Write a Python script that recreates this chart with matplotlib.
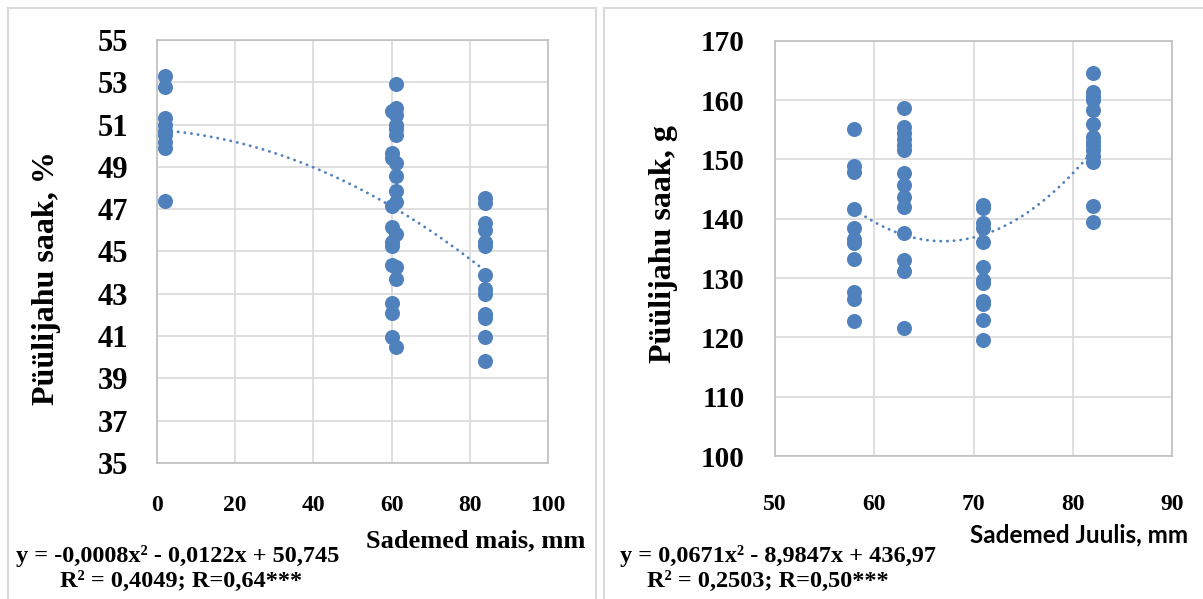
import numpy as np
import matplotlib.pyplot as plt
from matplotlib.patches import Rectangle

# Precipitation in May (mm) vs flour yield (%)
mai_x = [2, 2, 2, 2, 2, 2, 2, 2, 2,
         61, 61, 60, 61, 61, 61, 61, 60, 60, 61, 61, 61, 61, 60, 60, 61,
         60, 60, 60, 61, 61, 60, 60, 60, 61,
         84, 84, 84, 84, 84, 84, 84, 84, 84, 84, 84, 84, 84]
mai_y = [53.3, 52.8, 51.3, 51.0, 50.7, 50.5, 50.2, 49.9, 47.4,
         52.9, 51.8, 51.65, 51.45, 51.0, 50.8, 50.5, 49.65, 49.4, 49.2, 48.55, 47.85, 47.35, 47.15, 46.15, 45.85,
         45.45, 45.25, 44.35, 44.25, 43.7, 42.55, 42.1, 40.95, 40.5,
         47.55, 47.3, 46.35, 46.0, 45.45, 45.25, 43.9, 43.25, 43.0, 42.05, 41.85, 40.95, 39.8]

# Precipitation in July (mm) vs flour yield (g)
juuli_x = [58] * 11 + [63] * 14 + [71] * 12 + [82] * 14
juuli_y = [155.1, 148.9, 147.8, 141.6, 138.5, 136.6, 135.9, 133.2, 127.7, 126.4, 122.8,
           158.6, 155.4, 154.5, 153.5, 152.4, 151.6, 147.7, 145.7, 143.6, 141.9, 137.6, 133.0, 131.2, 121.6,
           142.3, 141.8, 139.3, 138.4, 136.1, 131.8, 129.7, 129.1, 126.1, 125.6, 123.0, 119.6,
           164.5, 161.3, 160.7, 160.0, 158.3, 156.0, 153.7, 153.0, 152.4, 151.5, 150.6, 149.6, 142.1, 139.4]

# polynomial trendline coefficients (a, b, c) for y = a*x^2 + b*x + c
mai_coef = (-0.0008, -0.0122, 50.745)
juuli_coef = (0.0671, -8.9847, 436.97)

mai_yticks = list(range(35, 56, 2))
mai_xticks = list(range(0, 101, 20))
juuli_yticks = list(range(100, 171, 10))
juuli_xticks = list(range(50, 91, 10))

W, H = 1203, 599
BLUE = '#4f81bd'
SERIF = 'Liberation Serif'


def fx(px):
    return px / W


def fy(py):
    return 1 - py / H


def trend(ax, coef, x0, x1):
    a, b, c = coef
    xs = np.linspace(x0, x1, 200)
    ax.plot(xs, a * xs**2 + b * xs + c, color=BLUE, lw=2.0,
            linestyle=(0, (0.1, 2.3)), dash_capstyle='round', zorder=2)


def style(ax, xticks, yticks, xpad, ypad, yfs, xfs):
    ax.set_xticks(xticks)
    ax.set_yticks(yticks)
    ax.set_xlim(xticks[0], xticks[-1])
    ax.set_ylim(yticks[0], yticks[-1])
    ax.grid(color='#d9d9d9', lw=1.2)
    ax.set_axisbelow(True)
    for s in ax.spines.values():
        s.set_color('#bfbfbf')
        s.set_linewidth(1.2)
    ax.tick_params(axis='x', length=0, pad=xpad)
    ax.tick_params(axis='y', length=0, pad=ypad)
    for lab in ax.get_yticklabels():
        lab.set_fontfamily(SERIF)
        lab.set_fontweight('bold')
        lab.set_fontsize(yfs)
    for lab in ax.get_xticklabels():
        lab.set_fontfamily(SERIF)
        lab.set_fontweight('bold')
        lab.set_fontsize(xfs)


fig = plt.figure(figsize=(W / 100, H / 100), dpi=100)

# panel frames
for left, right in [(8, 596), (604, 1215)]:
    fig.patches.append(Rectangle((fx(left), fy(620)), (right - left) / W, (620 - 8) / H,
                                 transform=fig.transFigure, fill=False,
                                 edgecolor='#d9d9d9', lw=1.5))

ax1 = fig.add_axes([fx(157), fy(463), (548 - 157) / W, (463 - 40) / H])
ax1.scatter(mai_x, mai_y, s=117, color=BLUE, zorder=3, linewidths=0)
trend(ax1, mai_coef, 2, 84)
style(ax1, mai_xticks, mai_yticks, 23, 21, 22, 17)

ax2 = fig.add_axes([fx(775), fy(456), (1172 - 775) / W, (456 - 40.7) / H])
ax2.scatter(juuli_x, juuli_y, s=117, color=BLUE, zorder=3, linewidths=0)
trend(ax2, juuli_coef, 58, 82)
style(ax2, juuli_xticks, juuli_yticks, 27, 22, 21, 17)

# axis titles
fig.text(fx(47), fy(278), 'Püülijahu saak, %', rotation=90, ha='center', va='center',
         fontfamily=SERIF, fontweight='bold', fontsize=23)
fig.text(fx(663), fy(244), 'Püülijahu saak, g', rotation=90, ha='center', va='center',
         fontfamily=SERIF, fontweight='bold', fontsize=23)
fig.text(fx(476), fy(541), 'Sademed mais, mm', ha='center', va='center',
         fontfamily=SERIF, fontweight='bold', fontsize=19)
fig.text(fx(1079), fy(535), 'Sademed Juulis, mm', ha='center', va='center',
         fontfamily='Lato', fontweight='bold', fontsize=17.5)

# trendline equations
fig.text(fx(178), fy(556), 'y = -0,0008x² - 0,0122x + 50,745', ha='center', va='center',
         fontfamily=SERIF, fontweight='bold', fontsize=17.5)
fig.text(fx(181), fy(581), 'R² = 0,4049; R=0,64***', ha='center', va='center',
         fontfamily=SERIF, fontweight='bold', fontsize=17.5)
fig.text(fx(778), fy(556), 'y = 0,0671x² - 8,9847x + 436,97', ha='center', va='center',
         fontfamily=SERIF, fontweight='bold', fontsize=17.5)
fig.text(fx(768), fy(581), 'R² = 0,2503; R=0,50***', ha='center', va='center',
         fontfamily=SERIF, fontweight='bold', fontsize=17.5)

fig.savefig('out.png', dpi=100)
